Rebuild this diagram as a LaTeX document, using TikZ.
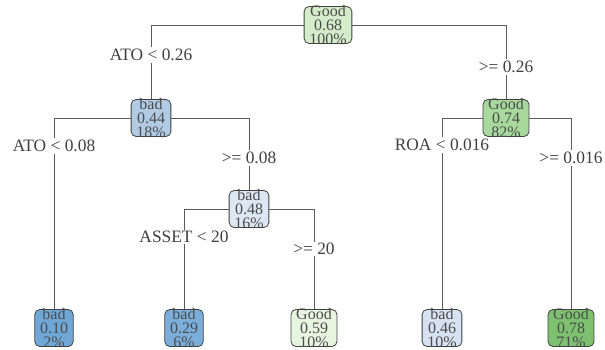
\documentclass[tikz,border=0pt]{standalone}
\usepackage{fontspec}
\setmainfont{Liberation Serif}
\usetikzlibrary{positioning}
\definecolor{goodroot}{HTML}{D5ECCB}
\definecolor{goodmid}{HTML}{A7D89C}
\definecolor{goodpale}{HTML}{E7F4DF}
\definecolor{gooddeep}{HTML}{7DC170}
\definecolor{badmid}{HTML}{B1CBE5}
\definecolor{badpale}{HTML}{DCE7F3}
\definecolor{baddeep}{HTML}{6FA7D6}
\definecolor{baddark}{HTML}{7BAEDA}
\definecolor{badlight}{HTML}{D6E2F1}

\begin{document}
\begin{tikzpicture}[x=0.5pt, y=-0.5pt,
				split/.style={draw=black!75, rounded corners=2.5pt, align=center,
					font=\fontsize{8}{7.2}\selectfont, text=black!70,
					inner xsep=2.6pt, inner ysep=-0.9pt, minimum height=18.5pt},
				rule/.style={fill=white, inner sep=0.8pt, text=black!75,
					font=\fontsize{8.7}{10}\selectfont},
				edge/.style={draw=black!65, line width=0.5pt}
				]
				\useasboundingbox (0,0) rectangle (605,349);
				% tree nodes
				\node[split, fill=goodroot] (root) at (328,25) {Good\\0.68\\100\%};
				\node[split, fill=badmid] (ato) at (151,118) {bad\\0.44\\18\%};
				\node[split, fill=goodmid] (roa) at (506,118) {Good\\0.74\\82\%};
				\node[split, fill=baddeep] (leafa) at (54,328) {bad\\0.10\\2\%};
				\node[split, fill=badpale] (asset) at (249,209) {bad\\0.48\\16\%};
				\node[split, fill=baddark] (leafb) at (184,328) {bad\\0.29\\6\%};
				\node[split, fill=goodpale] (leafc) at (314,328) {Good\\0.59\\10\%};
				\node[split, fill=badlight] (leafd) at (442,328) {bad\\0.46\\10\%};
				\node[split, fill=gooddeep] (leafe) at (571,328) {Good\\0.78\\71\%};
				% branches
				\draw[edge] (root) -| (ato);
				\draw[edge] (root) -| (roa);
				\draw[edge] (ato) -| (leafa);
				\draw[edge] (ato) -| (asset);
				\draw[edge] (asset) -| (leafb);
				\draw[edge] (asset) -| (leafc);
				\draw[edge] (roa) -| (leafd);
				\draw[edge] (roa) -| (leafe);
				% split rules
				\node[rule] (r1) at (151,55) {ATO < 0.26};
				\node[rule] (r2) at (506,67) {>= 0.26};
				\node[rule] (r3) at (54,146) {ATO < 0.08};
				\node[rule] (r4) at (249,158) {>= 0.08};
				\node[rule] (r5) at (184,237) {ASSET < 20};
				\node[rule] (r6) at (314,249) {>= 20};
				\node[rule] (r7) at (442,145) {ROA < 0.016};
				\node[rule] (r8) at (571,158) {>= 0.016};
			\end{tikzpicture}
\end{document}
